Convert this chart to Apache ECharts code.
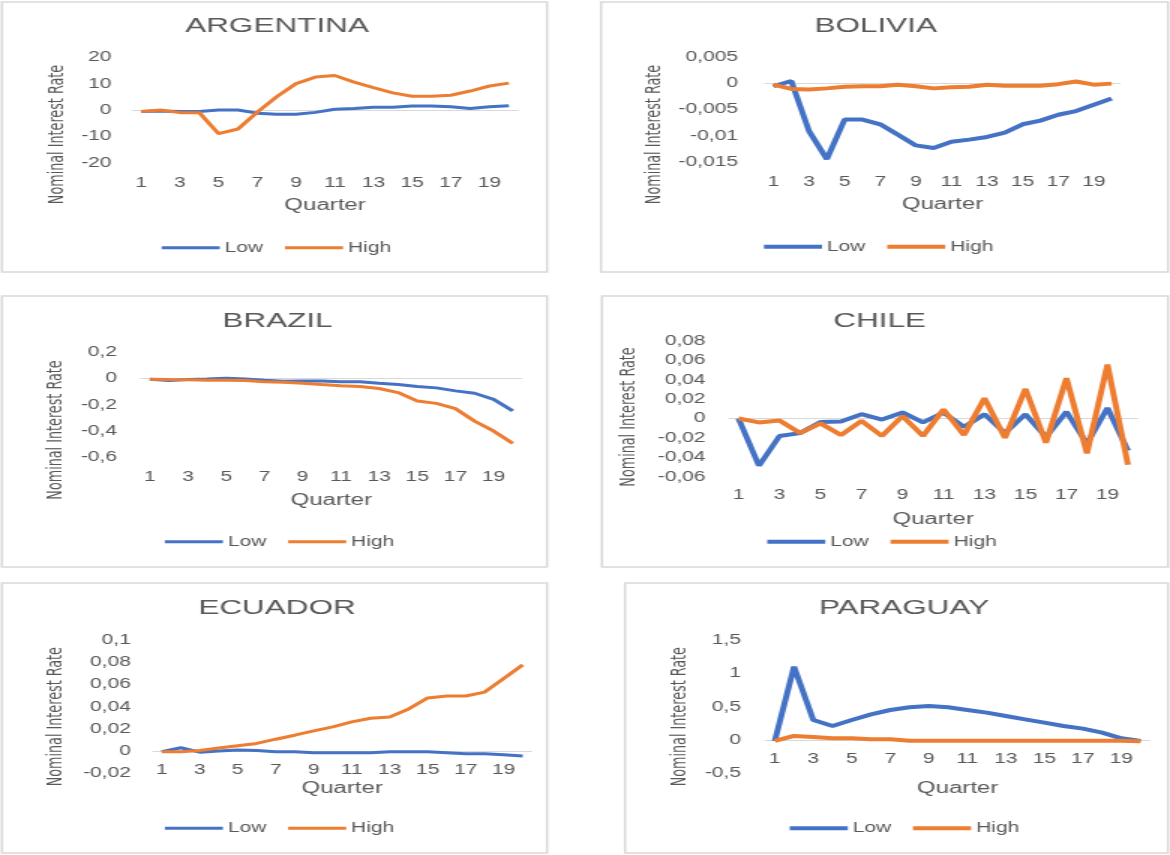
<!DOCTYPE html>
<html>
<head>
<meta charset="utf-8">
<script src="https://cdn.jsdelivr.net/npm/echarts@6/dist/echarts.min.js"></script>
<style>
html, body { margin: 0; padding: 0; background: #ffffff; overflow: hidden; }
#wrap { width: 1170px; height: 855px; overflow: hidden; }
#chart { width: 780px; height: 855px; transform: scaleX(1.5); transform-origin: 0 0; }
</style>
</head>
<body>
<div id="wrap"><div id="chart"></div></div>
<script>
// ---------- DATA ----------
const quarters = ['1','2','3','4','5','6','7','8','9','10','11','12','13','14','15','16','17','18','19','20'];
const seriesNames = ['Low', 'High'];
const countries = ['ARGENTINA', 'BOLIVIA', 'BRAZIL', 'CHILE', 'ECUADOR', 'PARAGUAY'];

const argentinaLow  = [-0.6, -0.4, -0.6, -0.6, 0, 0, -1.2, -1.6, -1.6, -0.9, 0.3, 0.6, 1, 1, 1.5, 1.5, 1.2, 0.6, 1.2, 1.6];
const argentinaHigh = [-0.6, 0, -1, -1, -9, -7.2, -0.8, 5, 10, 12.5, 13.1, 10.6, 8.5, 6.5, 5.2, 5.2, 5.6, 7.2, 9.1, 10.2];
const argentinaTicks = [-20, -10, 0, 10, 20];

const boliviaLow  = [-0.0006, 0.0004, -0.0091, -0.0144, -0.0069, -0.0069, -0.0078, -0.0098, -0.0118, -0.0123, -0.0111, -0.0107, -0.0102, -0.0094, -0.0078, -0.0071, -0.006, -0.0053, -0.0041, -0.0029];
const boliviaHigh = [-0.0003, -0.0011, -0.0012, -0.001, -0.0007, -0.0006, -0.0006, -0.0003, -0.0006, -0.001, -0.0008, -0.0007, -0.0003, -0.0005, -0.0005, -0.0005, -0.0002, 0.0003, -0.0003, -0.0001];
const boliviaTicks = [-0.015, -0.01, -0.005, 0, 0.005];

const brazilLow  = [-0.005, -0.015, -0.008, -0.003, 0.003, -0.003, -0.013, -0.02, -0.018, -0.018, -0.025, -0.025, -0.036, -0.046, -0.061, -0.071, -0.094, -0.112, -0.158, -0.247];
const brazilHigh = [-0.005, -0.008, -0.01, -0.013, -0.013, -0.015, -0.025, -0.028, -0.036, -0.046, -0.054, -0.061, -0.076, -0.107, -0.171, -0.189, -0.229, -0.324, -0.4, -0.494];
const brazilTicks = [-0.6, -0.4, -0.2, 0, 0.2];

const chileLow  = [0, -0.0487, -0.018, -0.015, -0.0035, -0.003, 0.0045, -0.001, 0.0063, -0.004, 0.006, -0.0087, 0.0045, -0.015, 0.0045, -0.019, 0.007, -0.026, 0.011, -0.033];
const chileHigh = [0, -0.004, -0.002, -0.015, -0.005, -0.017, -0.0025, -0.018, 0.0025, -0.018, 0.0094, -0.017, 0.021, -0.02, 0.0306, -0.025, 0.0417, -0.036, 0.0557, -0.0477];
const chileTicks = [-0.06, -0.04, -0.02, 0, 0.02, 0.04, 0.06, 0.08];

const ecuadorLow  = [-0.0006, 0.003, -0.001, 0, 0.001, 0.0006, -0.0006, -0.0006, -0.0015, -0.0015, -0.0015, -0.0015, -0.0006, -0.0006, -0.0006, -0.0015, -0.0024, -0.0024, -0.0033, -0.0045];
const ecuadorHigh = [-0.0006, -0.0006, 0.0006, 0.0027, 0.0048, 0.0069, 0.0107, 0.0143, 0.0182, 0.0218, 0.0263, 0.0296, 0.0307, 0.0379, 0.0478, 0.0496, 0.0496, 0.0531, 0.0654, 0.0776];
const ecuadorTicks = [-0.02, 0, 0.02, 0.04, 0.06, 0.08, 0.1];

const paraguayLow  = [-0.015, 1.1, 0.3, 0.21, 0.3, 0.385, 0.45, 0.49, 0.51, 0.49, 0.45, 0.41, 0.36, 0.31, 0.26, 0.21, 0.17, 0.11, 0.025, -0.015];
const paraguayHigh = [-0.015, 0.06, 0.045, 0.025, 0.025, 0.01, 0.01, -0.01, -0.01, -0.01, -0.01, -0.01, -0.01, -0.01, -0.01, -0.01, -0.01, -0.01, -0.01, -0.02];
const paraguayTicks = [-0.5, 0, 0.5, 1, 1.5];

const xAxisTitle = 'Quarter';
const yAxisTitle = 'Nominal Interest Rate';

// ---------- LAYOUT / STYLE (chart coordinates are pre-stretch; page is scaled 1.5x horizontally) ----------
const layout = [
  { low: argentinaLow, high: argentinaHigh, ticks: argentinaTicks,
    box: [1.3, 2, 363.4, 270], grid: { left: 87.7, top: 57.3, width: 258, height: 105.4 },
    yLabelMargin: 13.3, xLabelMargin: 13.6, nameGap: 34.8, titleX: 184.7, titleY: 15.5,
    yNameX: 38, yNameY: 134.5, legendLeft: 107.8, legendTop: 240.7, lw: 3 },
  { low: boliviaLow, high: boliviaHigh, ticks: boliviaTicks,
    box: [400.7, 2, 378, 270], grid: { left: 509.7, top: 56.7, width: 237.3, height: 105.6 },
    yLabelMargin: 17.7, xLabelMargin: 12.4, nameGap: 34.7, titleX: 583.8, titleY: 15.5,
    yNameX: 436.3, yNameY: 134.5, legendLeft: 509.3, legendTop: 239.7, lw: 4 },
  { low: brazilLow, high: brazilHigh, ticks: brazilTicks,
    box: [1.3, 296, 363.4, 271], grid: { left: 93.5, top: 352.3, width: 254.7, height: 105 },
    yLabelMargin: 15.5, xLabelMargin: 13, nameGap: 35.4, titleX: 185, titleY: 311.2,
    yNameX: 36.9, yNameY: 430, legendLeft: 109.9, legendTop: 534.7, lw: 3 },
  { low: chileLow, high: chileHigh, ticks: chileTicks,
    box: [401.3, 296, 377.4, 271], grid: { left: 485.5, top: 341, width: 273.3, height: 135.7 },
    yLabelMargin: 15.1, xLabelMargin: 11.3, nameGap: 35.3, titleX: 586.4, titleY: 311.2,
    yNameX: 419.1, yNameY: 417, legendLeft: 511.5, legendTop: 534.7, lw: 4 },
  { low: ecuadorLow, high: ecuadorHigh, ticks: ecuadorTicks,
    box: [1.3, 583, 363.4, 270], grid: { left: 101.5, top: 640, width: 253.3, height: 133.3 },
    yLabelMargin: 14.2, xLabelMargin: -10.3, nameGap: 7, titleX: 184.7, titleY: 597.8,
    yNameX: 36.9, yNameY: 716.7, legendLeft: 109.9, legendTop: 821.3, lw: 3 },
  { low: paraguayLow, high: paraguayHigh, ticks: paraguayTicks,
    box: [416.7, 583, 362, 270], grid: { left: 510.1, top: 640, width: 256.7, height: 133.3 },
    yLabelMargin: 16.1, xLabelMargin: -21, nameGap: 7, titleX: 602.7, titleY: 597.8,
    yNameX: 452.9, yNameY: 716.7, legendLeft: 526.5, legendTop: 821.3, lw: 4 }
];

const FONT = '"Liberation Sans", Arial, sans-serif';
const NARROW = '"DejaVu Sans Condensed", "Liberation Sans", sans-serif';
const TXT = '#595959';
const BLUE = '#4472C4';
const ORANGE = '#ED7D31';

function fmt(v) {
  const r = Math.round(v * 1e6) / 1e6;
  return String(r === 0 ? 0 : r).replace('.', ',');
}

const option = {
  animation: false,
  backgroundColor: '#ffffff',
  textStyle: { fontFamily: FONT },
  title: [], legend: [], grid: [], xAxis: [], yAxis: [], series: [], graphic: []
};

layout.forEach((p, i) => {
  option.graphic.push({
    type: 'rect', silent: true, z: 0,
    shape: { x: p.box[0], y: p.box[1], width: p.box[2], height: p.box[3] },
    style: { fill: 'none', stroke: '#d9d9d9', lineWidth: 1.5 }
  });
  option.graphic.push({
    type: 'text', silent: true, x: p.yNameX, y: p.yNameY, rotation: Math.PI / 2,
    style: { text: yAxisTitle, fill: TXT, font: '14.2px ' + NARROW, align: 'center', verticalAlign: 'middle' }
  });
  option.title.push({
    text: countries[i], left: p.titleX, top: p.titleY, textAlign: 'center', padding: 0,
    textStyle: { fontSize: 21, fontWeight: 'normal', color: TXT, fontFamily: FONT }
  });
  option.legend.push({
    data: seriesNames, left: p.legendLeft, top: p.legendTop, padding: 0,
    icon: 'rect', itemWidth: 38.7, itemHeight: p.lw, itemGap: 14.5, selectedMode: false,
    textStyle: { fontSize: 14, color: TXT, fontFamily: FONT, padding: [0, 0, 0, -1.7] }
  });
  option.grid.push(Object.assign({ containLabel: false }, p.grid));
  option.xAxis.push({
    type: 'category', gridIndex: i, data: quarters, boundaryGap: true,
    axisLine: { show: false }, axisTick: { show: false }, splitLine: { show: false },
    axisLabel: { interval: 1, margin: p.xLabelMargin, fontSize: 14, color: TXT, fontFamily: FONT },
    name: xAxisTitle, nameLocation: 'middle', nameGap: p.nameGap,
    nameTextStyle: { fontSize: 16, color: TXT, fontFamily: FONT }
  });
  const t = p.ticks;
  option.yAxis.push({
    type: 'value', gridIndex: i, min: t[0], max: t[t.length - 1], interval: t[1] - t[0],
    axisLine: { show: false }, axisTick: { show: false }, splitLine: { show: false },
    axisLabel: { margin: p.yLabelMargin, fontSize: 14, color: TXT, fontFamily: FONT, formatter: fmt }
  });
  option.series.push({
    name: seriesNames[0], type: 'line', xAxisIndex: i, yAxisIndex: i, data: p.low,
    symbol: 'none', smooth: false, color: BLUE, lineStyle: { width: p.lw, color: BLUE }, z: 3,
    markLine: {
      silent: true, symbol: 'none', label: { show: false }, animation: false,
      lineStyle: { color: '#d9d9d9', width: 1, type: 'solid' }, z: 1,
      data: [{ yAxis: 0 }]
    }
  });
  option.series.push({
    name: seriesNames[1], type: 'line', xAxisIndex: i, yAxisIndex: i, data: p.high,
    symbol: 'none', smooth: false, color: ORANGE, lineStyle: { width: p.lw, color: ORANGE }, z: 4
  });
});

const chart = echarts.init(document.getElementById('chart'), null, { renderer: 'canvas' });
chart.setOption(option);
</script>
</body>
</html>
